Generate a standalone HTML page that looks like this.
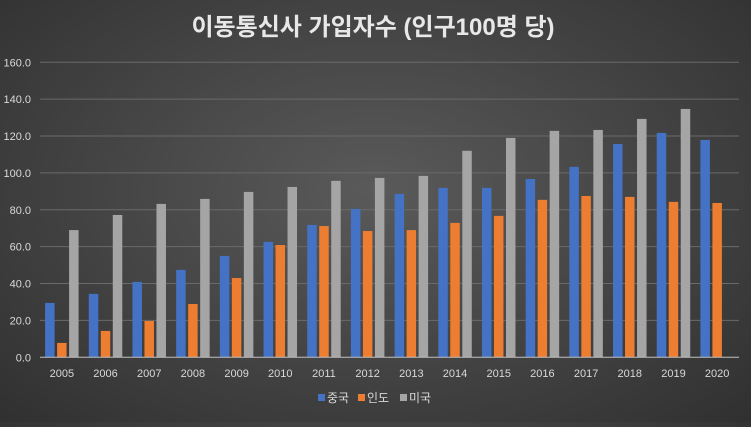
<!DOCTYPE html>
<html><head><meta charset="utf-8"><style>
html,body{margin:0;padding:0}
body{width:751px;height:422px;overflow:hidden;background:radial-gradient(ellipse at 50% 45%,#5a5a5a 0%,#474747 45%,#303030 100%);font-family:"Liberation Sans","Noto Sans CJK KR",sans-serif}
</style></head><body>
<svg id="chart" width="751" height="422" xmlns="http://www.w3.org/2000/svg">
<text x="373" y="35" text-anchor="middle" font-size="24" font-weight="bold" fill="#e8e8e8" font-family="Liberation Sans, Noto Sans CJK KR, sans-serif">이동통신사 가입자수 (인구100명 당)</text>
<g id="grid"></g><g id="bars"></g><g id="axes"></g>
<g id="legend"></g>
</svg>
<script>
const categories=["2005","2006","2007","2008","2009","2010","2011","2012","2013","2014","2015","2016","2017","2018","2019","2020"];
const china=[29.5,34.4,40.9,47.4,55,62.6,71.8,80.5,88.6,91.9,91.9,96.7,103.3,115.7,121.7,117.9];
const india=[7.8,14.3,19.7,28.9,43,60.9,71.2,68.5,69,72.9,76.7,85.4,87.5,87,84.3,83.7];
const usa=[69,77.2,83.2,85.9,89.7,92.4,95.7,97.3,98.4,112,119,122.8,123.3,129.3,134.7,null];
const yTicks=[0,20,40,60,80,100,120,140,160];
const seriesNames=["중국","인도","미국"];
const colors=["#4472c4","#ed7d31","#a5a5a5"];
const NS="http://www.w3.org/2000/svg";
const x0=40,x1=739,yB=357.3,yT=62.3,yMax=160;
const y=v=>yB-(v/yMax)*(yB-yT);
const bw=(x1-x0)/categories.length;
const xc=i=>x0+bw*(i+0.5);
function mk(t,a,p){const e=document.createElementNS(NS,t);for(const k in a)e.setAttribute(k,a[k]);p.appendChild(e);return e;}
const grid=document.getElementById('grid'),bars=document.getElementById('bars'),axes=document.getElementById('axes'),legend=document.getElementById('legend');
yTicks.forEach(t=>{
  if(t>0){const l=mk('line',{x1:x0,x2:x1,y1:y(t),y2:y(t),stroke:'#6a6a6a','stroke-width':1},grid);
  
  }
  const tx=mk('text',{x:31,y:y(t)+4,'text-anchor':'end','font-size':11,fill:'#d9d9d9'},axes);
  tx.textContent=t.toFixed(1);
  
  
});
const base=mk('line',{x1:x0,x2:x1,y1:yB,y2:yB,stroke:'#bfbfbf','stroke-width':1},axes);


const series=[china,india,usa];
const barW=9.5,step=12;
categories.forEach((c,i)=>{
  series.forEach((s,k)=>{
    const v=s[i]; if(v==null)return;
    const r=mk('rect',{x:xc(i)+(k-1)*step-barW/2,y:y(v),width:barW,height:yB-y(v),fill:colors[k]},bars);
    
    
  });
  const tx=mk('text',{x:xc(i),y:377,'text-anchor':'middle','font-size':11,fill:'#d9d9d9'},axes);
  tx.textContent=c;
  
  
});
const lx=[318,358,400];
seriesNames.forEach((n,k)=>{
  const g=mk('g',{},legend);
  
  
  mk('rect',{x:lx[k],y:394,width:7,height:7,fill:colors[k]},g);
  const t=mk('text',{x:lx[k]+9,y:402,'font-size':12,fill:'#d9d9d9'},g);
  t.textContent=n;
});
</script>
</body></html>
